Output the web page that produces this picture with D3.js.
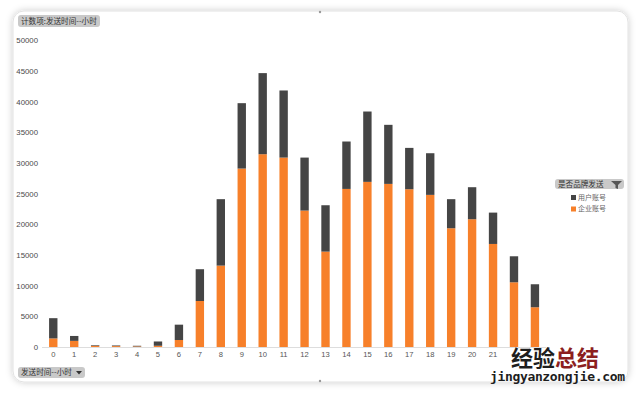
<!DOCTYPE html>
<html><head><meta charset="utf-8">
<script src="https://cdn.jsdelivr.net/npm/d3@7"></script>
<style>
html,body{margin:0;padding:0;background:#fff;}
svg{display:block;font-family:"Liberation Sans","Noto Sans CJK SC",Arial,sans-serif;}
</style></head>
<body>
<script>
const hours = ["0","1","2","3","4","5","6","7","8","9","10","11","12","13","14","15","16","17","18","19","20","21","22","23"];
const visibleHourLabels = ["0","1","2","3","4","5","6","7","8","9","10","11","12","13","14","15","16","17","18","19","20","21"];
const enterprise = [1400,1000,200,150,100,200,1140,7500,13270,29090,31430,30880,22240,15550,25770,26920,26590,25720,24800,19360,20830,16800,10550,6480];
const userAcc = [3300,800,100,100,100,700,2500,5180,10830,10660,13220,10940,8640,7560,7730,11470,9630,6740,6790,4740,5220,5110,4240,3750];
const yTicks = [0,5000,10000,15000,20000,25000,30000,35000,40000,45000,50000];
const seriesNames = ["企业账号","用户账号"];
const legendOrder = ["用户账号","企业账号"];
const colors = {"企业账号":"#F7802A","用户账号":"#454545"};

const W=640,H=395;
const svg=d3.select("body").append("svg").attr("width",W).attr("height",H);
const defs=svg.append("defs");
const f=defs.append("filter").attr("id","sh").attr("x","-5%").attr("y","-5%").attr("width","110%").attr("height","110%");
f.append("feDropShadow").attr("dx",0).attr("dy",0).attr("stdDeviation",3.5).attr("flood-color","#000").attr("flood-opacity",0.2);

// card
svg.append("rect").attr("x",13).attr("y",11).attr("width",615).attr("height",371).attr("rx",11)
  .attr("fill","#fff").attr("stroke","#e2e2e2").attr("stroke-width",1).attr("filter","url(#sh)");
svg.append("circle").attr("cx",320).attr("cy",12).attr("r",1.2).attr("fill","#999");
svg.append("circle").attr("cx",320).attr("cy",381).attr("r",1.2).attr("fill","#999");

const x=d3.scaleBand().domain(hours).range([42.8,545.4]).paddingInner(0.6).paddingOuter(0.3);
const y=d3.scaleLinear().domain([0,50000]).range([347,40.3]);

const table=hours.map((h,i)=>({hour:h,"企业账号":enterprise[i],"用户账号":userAcc[i]}));
const stack=d3.stack().keys(seriesNames)(table);

svg.append("g").selectAll("g").data(stack).join("g").attr("fill",d=>colors[d.key])
  .selectAll("rect").data(d=>d).join("rect")
  .attr("x",d=>x(d.data.hour)).attr("width",x.bandwidth())
  .attr("y",d=>y(d[1])).attr("height",d=>y(d[0])-y(d[1]));

// baseline
svg.append("line").attr("x1",42).attr("x2",546).attr("y1",347.5).attr("y2",347.5).attr("stroke","#ddd").attr("stroke-width",1);

// y axis
const ya=svg.append("g").attr("transform","translate(38,0)")
  .call(d3.axisLeft(y).tickValues(yTicks).tickSize(0).tickPadding(0).tickFormat(d3.format("d")));
ya.select(".domain").remove();
ya.selectAll("text").attr("font-size",7.8).attr("fill","#4a4a4a").attr("font-family","Liberation Sans, Arial, sans-serif");

// x axis (labels 22, 23 are covered by the watermark in the reference)
const xa=svg.append("g").attr("transform","translate(0,350)")
  .call(d3.axisBottom(x).tickValues(visibleHourLabels).tickSize(0).tickPadding(2));
xa.select(".domain").remove();
xa.selectAll("text").attr("font-size",7.6).attr("fill","#555").attr("font-family","Liberation Sans, Arial, sans-serif");

// badges
function badge(x0,y0,w,h,label){
  svg.append("rect").attr("x",x0).attr("y",y0).attr("width",w).attr("height",h).attr("rx",3).attr("fill","#c9c9c9");
  svg.append("text").attr("x",x0+3).attr("y",y0+h/2).attr("dy","0.35em").attr("font-size",7.6).attr("fill","#333")
    .attr("font-family","Noto Sans CJK SC, sans-serif").text(label);
}
badge(18,15,82,12,"计数项:发送时间--小时");
badge(18,367,67,11,"发送时间--小时");
svg.append("path").attr("d","M76,371 L82,371 L79,374.5 Z").attr("fill","#333");
badge(555,179,69,10,"是否品牌发送");
// filter icon
svg.append("path").attr("d","M611,181 L622,181 L618,185 L618,189 L615.5,188 L615.5,185 Z").attr("fill","#555");

// legend
const lg=svg.append("g");
legendOrder.forEach((k,i)=>{
  const yy=197.5+i*11.5;
  lg.append("rect").attr("x",571).attr("y",yy-2.5).attr("width",5).attr("height",5).attr("fill",colors[k]);
  lg.append("text").attr("x",578).attr("y",yy).attr("dy","0.35em").attr("font-size",7).attr("fill","#666")
    .attr("font-family","Noto Sans CJK SC, serif").text(k);
});

// watermark
const wm=svg.append("text").attr("x",511).attr("y",366).attr("font-size",22).attr("font-weight","bold")
  .attr("font-family","Noto Sans CJK SC, sans-serif");
wm.append("tspan").attr("fill","#1e1e1e").text("经验");
wm.append("tspan").attr("fill","#8c1f1f").text("总结");
svg.append("text").attr("x",490).attr("y",381).attr("font-size",13).attr("font-weight","bold").attr("fill","#1e1e1e")
  .attr("font-family","DejaVu Sans Mono, monospace").attr("textLength",135).text("jingyanzongjie.com");
</script>
</body></html>
